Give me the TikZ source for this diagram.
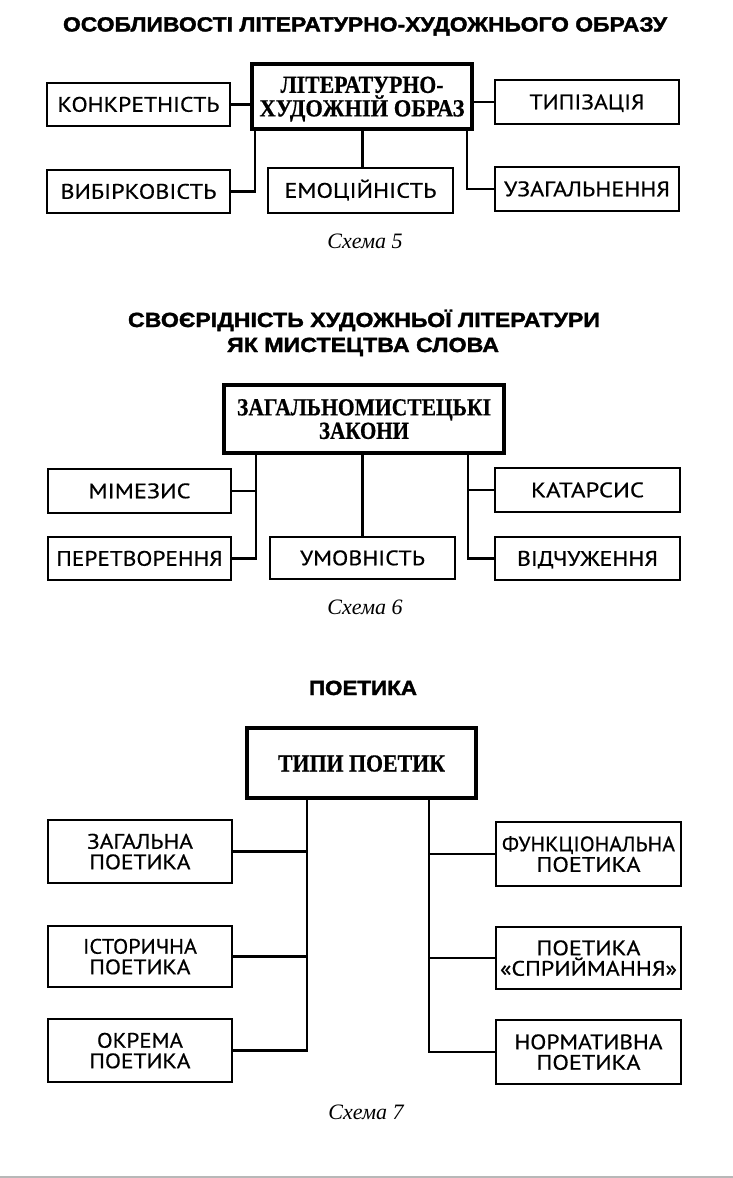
\documentclass[tikz,border=0pt]{standalone}
\usepackage{fontspec}
\usepackage{graphicx}
\newfontfamily\ttlfont{Liberation Sans}[BoldFeatures={FakeBold=1.6}]
\newfontfamily\labfont{PT Sans}[FakeBold=0.5]
\newfontfamily\hdfont{Liberation Serif}[BoldFeatures={FakeBold=0.6}]
\newsavebox\fwbox
\newcommand{\fw}[2]{\sbox\fwbox{#2}\pgfmathsetmacro\fwx{#1/\the\wd\fwbox}\scalebox{\fwx}[1]{\usebox\fwbox}}
\begin{document}
\begin{tikzpicture}[x=1pt,y=-1pt,
  lbox/.style={draw, line width=2.4pt, minimum width=183, minimum height=43, inner sep=0pt,
    font=\labfont\fontsize{21}{20.5}\selectfont, text height=14.5, text depth=0},
  lbox2/.style={draw, line width=2.4pt, minimum width=184, minimum height=63, inner sep=0pt,
    font=\labfont\fontsize{21}{20.5}\selectfont, align=center, text depth=0},
  hbox/.style={draw, line width=4.5pt, inner sep=0pt, align=center, text depth=0,
    font=\hdfont\bfseries\fontsize{24.5}{23.5}\selectfont},
  conn/.style={line width=2.2pt},
  ttl/.style={anchor=base, inner sep=0pt, font=\ttlfont\bfseries\fontsize{20.5}{24}\selectfont},
  capt/.style={anchor=base, inner sep=0pt, font=\hdfont\itshape\fontsize{22}{24}\selectfont}
]
\useasboundingbox (0,0) rectangle (733,1178);
\fill[black!28] (0,1175.5) rectangle (733,1178);

% ---------- Scheme 5 ----------
\node[ttl] (t1) at (365,31.5) {\fw{604}{ОСОБЛИВОСТІ ЛІТЕРАТУРНО-ХУДОЖНЬОГО ОБРАЗУ}};
\node[hbox, minimum width=220, minimum height=65] (obraz) at (362,96.5)
  {\fw{163}{ЛІТЕРАТУРНО-}\\\fw{205}{ХУДОЖНІЙ ОБРАЗ}};
\node[lbox] (konk) at (138.5,104.5) {\fw{162}{КОНКРЕТНІСТЬ}};
\node[lbox, minimum width=184, minimum height=44] (typ) at (587,102) {\fw{115}{ТИПІЗАЦІЯ}};
\node[lbox] (vyb) at (138.5,191.5) {\fw{156}{ВИБІРКОВІСТЬ}};
\node[lbox, minimum width=185, minimum height=45] (emo) at (360.5,190.5) {\fw{152}{ЕМОЦІЙНІСТЬ}};
\node[lbox, minimum width=184, minimum height=44] (uzag) at (587,189) {\fw{166}{УЗАГАЛЬНЕННЯ}};
\node[capt] (s5) at (365,248) {Схема 5};

\draw[conn] (konk.east) -- (konk.east -| obraz.west);
\draw[conn] (typ.west) -- (typ.west -| obraz.east);
\coordinate (o1) at ([xshift=5.5pt]obraz.south west);
\coordinate (o2) at ([xshift=-7pt]obraz.south east);
\draw[conn] (o1) |- (vyb.east);
\draw[conn] (o2) |- (uzag.west);
\draw[conn] ([xshift=2pt]emo.north) -- ([xshift=2pt]emo.north |- obraz.south);

% ---------- Scheme 6 ----------
\node[ttl] (t2a) at (364,327) {\fw{472}{СВОЄРІДНІСТЬ ХУДОЖНЬОЇ ЛІТЕРАТУРИ}};
\node[ttl] (t2b) at (363,352) {\fw{272}{ЯК МИСТЕЦТВА СЛОВА}};
\node[hbox, minimum width=280, minimum height=68] (zak) at (364,419)
  {\fw{254}{ЗАГАЛЬНОМИСТЕЦЬКІ}\\\fw{90}{ЗАКОНИ}};
\node[lbox, minimum height=44] (mim) at (139.5,491) {\fw{102}{МІМЕЗИС}};
\node[lbox] (per) at (139.5,558.5) {\fw{166}{ПЕРЕТВОРЕННЯ}};
\node[lbox, minimum width=185, minimum height=42] (umo) at (362.5,558) {\fw{125}{УМОВНІСТЬ}};
\node[lbox, minimum width=185, minimum height=44] (kat) at (587.5,490) {\fw{113}{КАТАРСИС}};
\node[lbox, minimum width=185] (vid) at (587.5,558.5) {\fw{141}{ВІДЧУЖЕННЯ}};
\node[capt] (s6) at (365,614) {Схема 6};

\coordinate (z1) at ([xshift=34pt]zak.south west);
\coordinate (z2) at ([xshift=-38pt]zak.south east);
\draw[conn] (z1) |- (per.east);
\draw[conn] (mim.east) -- (mim.east -| z1);
\draw[conn] (z2) |- (vid.west);
\draw[conn] (kat.west) -- (kat.west -| z2);
\draw[conn] (umo.north) -- (umo.north |- zak.south);

% ---------- Scheme 7 ----------
\node[ttl] (t3) at (363,695) {\fw{108}{ПОЕТИКА}};
\node[hbox, minimum width=229, minimum height=70, text height=17] (tp) at (361.5,763) {\fw{167}{ТИПИ ПОЕТИК}};
\node[lbox2] (zag) at (140,851.5) {\fw{106}{ЗАГАЛЬНА}\\\fw{101}{ПОЕТИКА}};
\node[lbox2, minimum height=61] (ist) at (140,956.5) {\fw{114}{ІСТОРИЧНА}\\\fw{101}{ПОЕТИКА}};
\node[lbox2] (okr) at (140,1050.5) {\fw{86}{ОКРЕМА}\\\fw{101}{ПОЕТИКА}};
\node[lbox2, minimum width=185, minimum height=64] (fun) at (588.5,854) {\fw{173}{ФУНКЦІОНАЛЬНА}\\\fw{104}{ПОЕТИКА}};
\node[lbox2, minimum width=185, minimum height=62] (spr) at (588.5,958) {\fw{104}{ПОЕТИКА}\\\fw{177}{«СПРИЙМАННЯ»}};
\node[lbox2, minimum width=185, minimum height=64] (nor) at (588.5,1052) {\fw{148}{НОРМАТИВНА}\\\fw{104}{ПОЕТИКА}};
\node[capt] (s7) at (366,1119) {Схема 7};

\coordinate (p1) at ([xshift=62pt]tp.south west);
\coordinate (p2) at ([xshift=-49.5pt]tp.south east);
\draw[conn] (p1) |- (okr.east);
\draw[conn] (zag.east) -- (zag.east -| p1);
\draw[conn] (ist.east) -- (ist.east -| p1);
\draw[conn] (p2) |- (nor.west);
\draw[conn] (fun.west) -- (fun.west -| p2);
\draw[conn] (spr.west) -- (spr.west -| p2);
\end{tikzpicture}
\end{document}
